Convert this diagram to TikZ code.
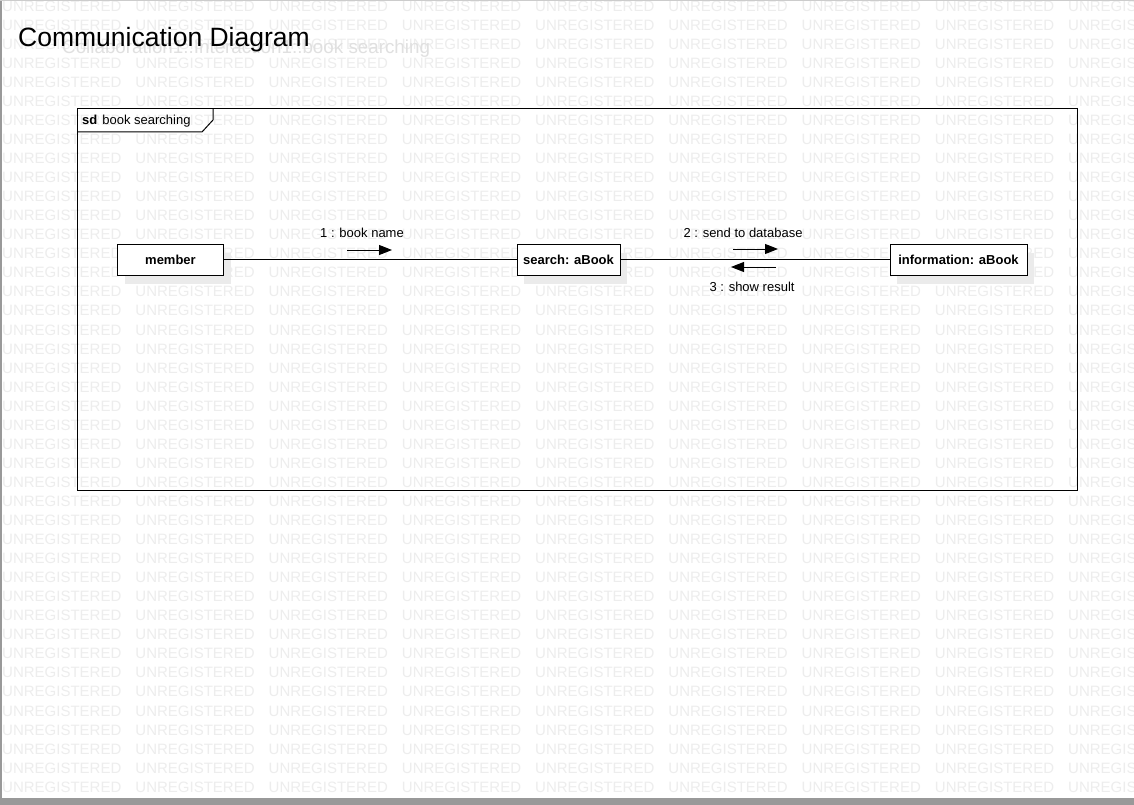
\documentclass[tikz,border=0pt]{standalone}
\usepackage{fontspec}
\setmainfont{Liberation Sans}
\usetikzlibrary{arrows.meta}
\usetikzlibrary{shadows}

\tikzset{
  wmark/.style={anchor=west, inner sep=0pt, text=black!7, font=\fontsize{15}{15}\selectfont},
  object/.style={draw, line width=1pt, fill=white, minimum height=31pt, inner sep=0pt,
    font=\fontsize{13}{15}\selectfont\bfseries,
    drop shadow={shadow xshift=7pt, shadow yshift=-9pt, fill=black!8, opacity=1}},
  link/.style={line width=1pt},
  frame/.style={line width=1pt},
  msg/.style={line width=1pt, -{Triangle[length=13pt,width=10pt]}},
  msglabel/.style={inner sep=0pt, font=\fontsize{13}{15}\selectfont},
}

\begin{document}
\begin{tikzpicture}[x=1pt, y=-1pt]
  \useasboundingbox (0,0) rectangle (1134,805);
  \fill[white] (0,0) rectangle (1134,805);

  % watermark
  \foreach \r in {0,...,41}
  \foreach \c in {0,...,8}
  {
    \node[wmark] (w-\r-\c) at (\c*133.25+2, \r*19.05+6) {UNREGISTERED};
  }

  % window edges
  \fill[black!40] (0,0) rectangle (2,805);
  \fill[black!40] (0,798) rectangle (1134,805);
  \draw[black!20] (0,0.5) -- (1134,0.5);

  % title
  \node[anchor=base west, inner sep=0pt, text=black!12, font=\fontsize{18.8}{19}\selectfont]
    (path) at (62,54) {Collaboration1::Interaction1::book searching};
  \node[anchor=base west, inner sep=0pt, font=\fontsize{26.5}{27}\selectfont]
    (title) at (18,47) {Communication Diagram};

  % frame
  \draw[frame] (77,109) rectangle (1077,490);
  \draw[frame] (77,132) -- (202,132) -- (213,120) -- (213,109);
  \node[msglabel, anchor=west] (sd) at (82,121) {\textbf{sd}\hspace{5pt}book searching};

  % objects
  \node[object, minimum width=106pt] (member) at (170.5,259.5) {member};
  \node[object, minimum width=103pt] (search) at (568.5,259.5) {search: aBook};
  \node[object, minimum width=137pt] (info)   at (958.5,259.5) {information: aBook};

  \draw[link] (member) -- (search);
  \draw[link] (search) -- (info);

  % messages
  \coordinate (m1a) at (347,250);
  \coordinate (m1b) at (392,250);
  \coordinate (m2a) at (733,249);
  \coordinate (m2b) at (778,249);
  \coordinate (m3a) at (776,267);
  \coordinate (m3b) at (731,267);
  \draw[msg] (m1a) -- (m1b);
  \draw[msg] (m2a) -- (m2b);
  \draw[msg] (m3a) -- (m3b);
  \node[msglabel] (l1) at (362,233) {1 : book name};
  \node[msglabel] (l2) at (743,233) {2 : send to database};
  \node[msglabel] (l3) at (752,287) {3 : show result};

\end{tikzpicture}
\end{document}
